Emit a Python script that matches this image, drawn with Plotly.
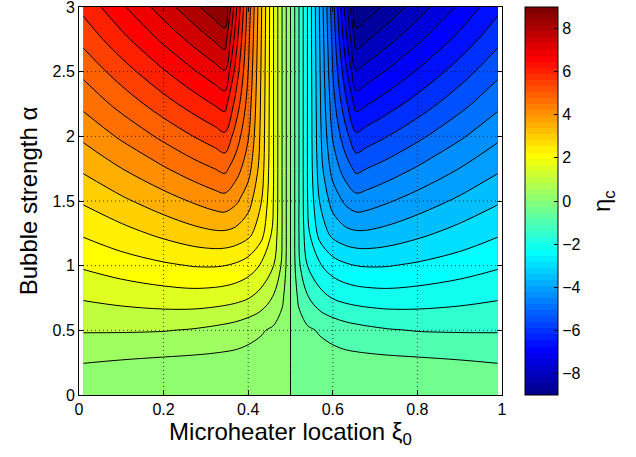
import numpy as np
import plotly.graph_objects as go

# ---------------- data ----------------
xi0 = [0.01, 0.1, 0.2, 0.27, 0.32, 0.345, 0.37, 0.4, 0.43, 0.46, 0.48, 0.495,
       0.505, 0.52, 0.54, 0.57, 0.6, 0.63, 0.655, 0.68, 0.73, 0.8, 0.9, 0.99]
alpha = [0.0, 0.25, 0.5, 0.75, 1.0, 1.25, 1.5, 1.75, 2.0, 2.25, 2.5, 2.75, 3.0]

eta_a000 = [0.02, 0.02, 0.02, 0.02, 0.02, 0.02, 0.02, 0.02, 0.02, 0.02, 0.02, 0.02,
            -0.02, -0.02, -0.02, -0.02, -0.02, -0.02, -0.02, -0.02, -0.02, -0.02, -0.02, -0.02]
eta_a025 = [0.51, 0.45, 0.39, 0.36, 0.34, 0.33, 0.32, 0.3, 0.27, 0.22, 0.15, 0.04,
            -0.04, -0.15, -0.22, -0.27, -0.3, -0.32, -0.33, -0.34, -0.36, -0.39, -0.45, -0.51]
eta_a050 = [1.04, 1.04, 1.02, 0.96, 0.88, 0.83, 0.77, 0.66, 0.55, 0.42, 0.28, 0.08,
            -0.08, -0.28, -0.42, -0.55, -0.66, -0.77, -0.83, -0.88, -0.96, -1.02, -1.04, -1.04]
eta_a075 = [1.54, 1.65, 1.75, 1.78, 1.74, 1.7, 1.64, 1.52, 1.3, 0.95, 0.6, 0.17,
            -0.17, -0.6, -0.95, -1.3, -1.52, -1.64, -1.7, -1.74, -1.78, -1.75, -1.65, -1.54]
eta_a100 = [2.06, 2.25, 2.42, 2.52, 2.53, 2.5, 2.42, 2.25, 1.95, 1.5, 0.92, 0.24,
            -0.24, -0.92, -1.5, -1.95, -2.25, -2.42, -2.5, -2.53, -2.52, -2.42, -2.25, -2.06]
eta_a125 = [2.56, 2.82, 3.12, 3.32, 3.42, 3.42, 3.35, 3.15, 2.7, 1.85, 1.0, 0.25,
            -0.25, -1.0, -1.85, -2.7, -3.15, -3.35, -3.42, -3.42, -3.32, -3.12, -2.82, -2.56]
eta_a150 = [3.06, 3.4, 3.78, 4.05, 4.24, 4.3, 4.1, 3.7, 3.05, 1.98, 1.0, 0.25,
            -0.25, -1.0, -1.98, -3.05, -3.7, -4.1, -4.3, -4.24, -4.05, -3.78, -3.4, -3.06]
eta_a175 = [3.58, 3.99, 4.45, 4.78, 5.0, 5.12, 4.75, 4.2, 3.3, 2.0, 1.0, 0.25,
            -0.25, -1.0, -2.0, -3.3, -4.2, -4.75, -5.12, -5.0, -4.78, -4.45, -3.99, -3.58]
eta_a200 = [4.1, 4.58, 5.12, 5.5, 5.76, 5.9, 5.3, 4.55, 3.4, 2.0, 1.0, 0.25,
            -0.25, -1.0, -2.0, -3.4, -4.55, -5.3, -5.9, -5.76, -5.5, -5.12, -4.58, -4.1]
eta_a225 = [4.62, 5.17, 5.79, 6.22, 6.53, 6.68, 5.85, 4.8, 3.45, 2.0, 1.0, 0.25,
            -0.25, -1.0, -2.0, -3.45, -4.8, -5.85, -6.68, -6.53, -6.22, -5.79, -5.17, -4.62]
eta_a250 = [5.12, 5.75, 6.45, 6.94, 7.29, 7.46, 6.35, 5.0, 3.5, 2.0, 1.0, 0.25,
            -0.25, -1.0, -2.0, -3.5, -5.0, -6.35, -7.46, -7.29, -6.94, -6.45, -5.75, -5.12]
eta_a275 = [5.64, 6.34, 7.11, 7.66, 8.05, 8.24, 6.8, 5.15, 3.55, 2.0, 1.0, 0.25,
            -0.25, -1.0, -2.0, -3.55, -5.15, -6.8, -8.24, -8.05, -7.66, -7.11, -6.34, -5.64]
eta_a300 = [6.14, 6.91, 7.76, 8.36, 8.79, 8.98, 7.2, 5.3, 3.6, 2.0, 1.0, 0.25,
            -0.25, -1.0, -2.0, -3.6, -5.3, -7.2, -8.98, -8.79, -8.36, -7.76, -6.91, -6.14]

eta_c = [eta_a000, eta_a025, eta_a050, eta_a075, eta_a100, eta_a125, eta_a150,
         eta_a175, eta_a200, eta_a225, eta_a250, eta_a275, eta_a300]

xticks = [0, 0.2, 0.4, 0.6, 0.8, 1]
xticklabels = ["0", "0.2", "0.4", "0.6", "0.8", "1"]
yticks = [0, 0.5, 1, 1.5, 2, 2.5, 3]
yticklabels = ["0", "0.5", "1", "1.5", "2", "2.5", "3"]
cticks = [-8, -6, -4, -2, 0, 2, 4, 6, 8]
cticklabels = ["\u22128", "\u22126", "\u22124", "\u22122", "0", "2", "4", "6", "8"]

ZMIN, ZMAX, STEP = -9.0, 9.0, 0.5


# ---------------- MATLAB jet(64) colormap ----------------
def matlab_jet(m=64):
    n = int(np.ceil(m / 4))
    u = np.concatenate([np.arange(1, n + 1) / n, np.ones(n - 1), np.arange(n, 0, -1) / n])
    g = int(np.ceil(n / 2)) - (1 if m % 4 == 1 else 0) + np.arange(1, len(u) + 1)
    r = g + n
    b = g - n
    J = np.zeros((m, 3))
    for ch, idxs in ((0, r), (1, g), (2, b)):
        for idx, val in zip(idxs, u):
            if 1 <= idx <= m:
                J[idx - 1, ch] = val
    return J


JET = matlab_jet(64)


def rgb(row):
    return "rgb(%d,%d,%d)" % tuple(int(round(255 * c)) for c in row)


# colourbar: 64 discrete steps
cb_scale = []
for i in range(64):
    c = rgb(JET[i])
    cb_scale.append([i / 64, c])
    cb_scale.append([(i + 1) / 64, c])

# contour fill: each band coloured like MATLAB contourf (colour of lower level)
nb = int(round((ZMAX - ZMIN) / STEP))
fill_scale = []
for k in range(nb):
    v = ZMIN + k * STEP
    idx = min(63, int(np.floor((v - ZMIN) / (ZMAX - ZMIN) * 64 + 1e-9)))
    c = rgb(JET[idx])
    fill_scale.append([k / nb, c])
    fill_scale.append([(k + 1) / nb, c])

FONT = "Liberation Sans, Arial, Helvetica, sans-serif"
W, H = 636, 457
L, R, T, B = 79, 134, 7, 62
PW = W - L - R             # plot width in px
CB_X = (525 - L) / PW      # colourbar left edge, paper units

fig = go.Figure()
fig.add_trace(go.Contour(
    x=xi0, y=alpha, z=eta_c,
    zmin=ZMIN, zmax=ZMAX,
    colorscale=fill_scale,
    contours=dict(start=ZMIN, end=ZMAX, size=STEP, coloring="fill"),
    line=dict(color="black", width=1, smoothing=1.0),
    showscale=False,
    hoverinfo="skip",
))

# dummy trace that carries the colourbar
fig.add_trace(go.Scatter(
    x=[0.5], y=[1.5], mode="markers",
    marker=dict(size=1, opacity=0, color=[0], colorscale=cb_scale, cmin=ZMIN, cmax=ZMAX,
                showscale=True,
                colorbar=dict(
                    x=CB_X, xanchor="left", xpad=0,
                    y=0.5, yanchor="middle", ypad=0, len=1, lenmode="fraction",
                    thickness=33, thicknessmode="pixels",
                    outlinecolor="black", outlinewidth=1,
                    tickvals=cticks, ticktext=cticklabels,
                    ticks="inside", ticklen=4, tickcolor="black",
                    tickfont=dict(family=FONT, size=16, color="black"),
                )),
    showlegend=False, hoverinfo="skip",
))

# dotted grid on top of the filled contours
shapes = []
for xv in xticks[1:-1]:
    shapes.append(dict(type="line", xref="x", yref="paper", x0=xv, x1=xv, y0=0, y1=1,
                       line=dict(color="rgba(0,0,0,0.75)", width=1, dash="1px,3px"), layer="above"))
for yv in yticks[1:-1]:
    shapes.append(dict(type="line", xref="paper", yref="y", x0=0, x1=1, y0=yv, y1=yv,
                       line=dict(color="rgba(0,0,0,0.75)", width=1, dash="1px,3px"), layer="above"))
# small ticks on the left edge of the colourbar (as in MATLAB)
for cv in cticks:
    yp = (cv - ZMIN) / (ZMAX - ZMIN)
    shapes.append(dict(type="line", xref="paper", yref="paper",
                       x0=CB_X, x1=CB_X + 4 / PW, y0=yp, y1=yp,
                       line=dict(color="black", width=1), layer="above"))

axis_common = dict(showline=True, linecolor="black", linewidth=1, mirror="ticks",
                   ticks="inside", ticklen=5, tickcolor="black", showgrid=False,
                   zeroline=False, automargin=False, ticklabeloverflow="allow",
                   tickfont=dict(family=FONT, size=16, color="black"))

fig.update_layout(
    width=W, height=H,
    margin=dict(l=L, r=R, t=T, b=B, autoexpand=False),
    paper_bgcolor="white", plot_bgcolor="white",
    shapes=shapes,
    annotations=[dict(text="\u03b7<sub>c</sub>", xref="paper", yref="paper",
                      x=(603 - L) / PW, y=0.5, xanchor="center", yanchor="middle",
                      textangle=-90, showarrow=False,
                      font=dict(family=FONT, size=24, color="black"))],
    xaxis=dict(range=[0, 1], tickvals=xticks, ticktext=xticklabels,
               title=dict(text="Microheater location \u03be<sub>0</sub>",
                          font=dict(family=FONT, size=24, color="black"), standoff=4),
               **axis_common),
    yaxis=dict(range=[0, 3], tickvals=yticks, ticktext=yticklabels,
               title=dict(text="Bubble strength \u03b1",
                          font=dict(family=FONT, size=24, color="black"), standoff=8),
               **axis_common),
    showlegend=False,
)

# place the figure at the page origin (removes the browser's default body margin)
fig.write_html("out.html",
               config={"displayModeBar": False, "staticPlot": True},
               post_script="document.body.style.margin='0';document.body.style.padding='0';")
